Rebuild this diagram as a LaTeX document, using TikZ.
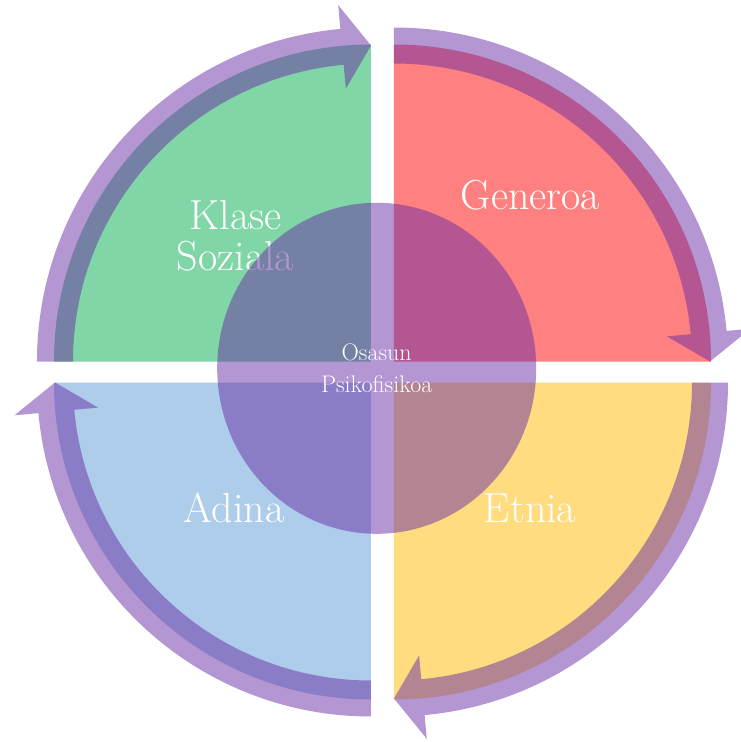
\documentclass[tikz,border=0pt]{standalone}
\usepackage{tikz}
\usetikzlibrary{shapes.geometric}

\definecolor{klasegreen}{RGB}{128,214,166}
\definecolor{generored}{RGB}{255,128,128}
\definecolor{etniayellow}{RGB}{255,220,128}
\definecolor{adinablue}{RGB}{174,205,234}
\definecolor{cyclepurple}{RGB}{105,45,165}

\begin{document}
\begin{tikzpicture}[x=1pt, y=1pt,
  cycle arrow/.style = {fill=cyclepurple, fill opacity=0.5},
  factor/.style = {text=white, align=center, inner sep=0pt,
    font=\fontsize{42}{41}\selectfont}]
  \clip (-382.5,-370.5) rectangle (358.5,371.5);
  \foreach \cx/\cy/\a/\col in {-11.5/10/180/klasegreen, 11.5/10/90/generored,
      11.5/-11/0/etniayellow, -11.5/-11/270/adinablue} {
    \pgfmathsetmacro{\b}{\a-84.74}
    \pgfmathsetmacro{\e}{\a-90}
    \begin{scope}[shift={(\cx,\cy)}]
      \fill[\col] (0,0) -- (\a:317) arc[start angle=\a, end angle=\e, radius=317] -- cycle;
      \fill[cycle arrow] (\a:334) arc[start angle=\a, end angle=\b, radius=334]
        -- (\b:358) -- (\e:316) -- (\b:274) -- (\b:298)
        arc[start angle=\b, end angle=\a, radius=298] -- cycle;
    \end{scope}
  }
  \node[factor, anchor=center] (klase) at (-147,136) {Klase\\Soziala};
  \node[factor, anchor=base] (generoa) at (148,161.5) {Generoa};
  \node[factor, anchor=base] (adina) at (-148.5,-150.5) {Adina};
  \node[factor, anchor=base] (etnia) at (147.5,-150.5) {Etnia};
  \node[ellipse, cycle arrow, text opacity=1, text=white, inner sep=0pt,
    minimum width=319pt, minimum height=331pt, align=center,
    font=\fontsize{24}{32}\selectfont] (osasun) at (-5.8,3.2) {Osasun\\Psikofisikoa};
\end{tikzpicture}
\end{document}
